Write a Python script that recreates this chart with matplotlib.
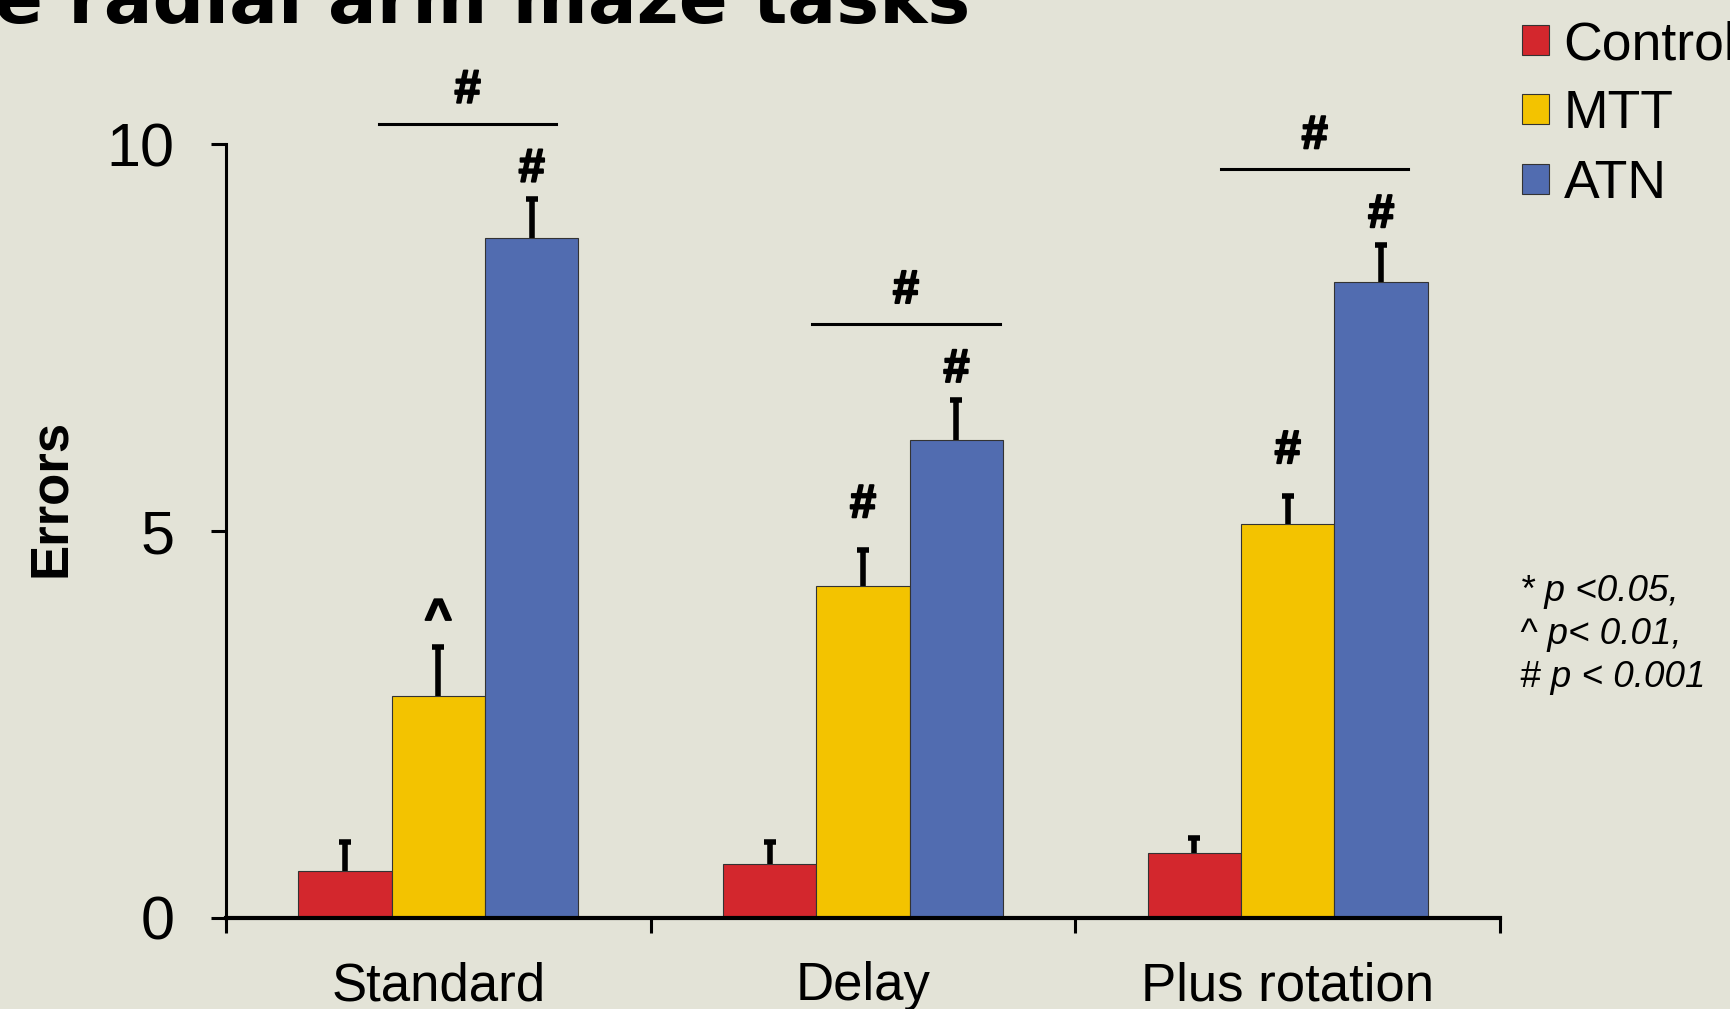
import numpy as np
import matplotlib.pyplot as plt
import matplotlib.patheffects as pe

# radial arm maze errors per task, mean and upward SEM
tasks = ["Standard", "Delay", "Plus rotation"]
groups = ["Control", "MTT", "ATN"]
control = [0.61, 0.70, 0.84]
control_err = [0.37, 0.28, 0.20]
mtt = [2.87, 4.29, 5.09]
mtt_err = [0.63, 0.47, 0.37]
atn = [8.79, 6.18, 8.22]
atn_err = [0.50, 0.52, 0.48]

# significance marks
mtt_sig = ["^", "#", "#"]
atn_sig = ["#", "#", "#"]
pair_sig = ["#", "#", "#"]

# MTT vs ATN bracket ends, relative to the task centre
bracket_ends = [(-0.139, 0.277), (-0.121, 0.323), (-0.157, 0.284)]

colors = ["#D3272D", "#F3C300", "#516CB0"]
bg = "#E3E3D7"

plt.rcParams["font.family"] = ["Liberation Sans", "DejaVu Sans"]

fig = plt.figure(figsize=(17.3, 10.09), dpi=100, facecolor=bg)
ax = fig.add_axes([0.1306, 0.0902, 0.7365, 0.7666])
ax.set_facecolor(bg)

X = np.arange(len(tasks))
w = 0.22
series = [(control, control_err), (mtt, mtt_err), (atn, atn_err)]
bars = []
for k, (vals, errs) in enumerate(series):
    xs = X + (k - 1) * w
    b = ax.bar(xs, vals, w, color=colors[k], edgecolor="#333333",
               linewidth=0.8, label=groups[k], zorder=2)
    bars.append(b)
    _, caps, _ = ax.errorbar(xs, vals, yerr=[np.zeros(len(vals)), errs],
                             fmt="none", ecolor="black", elinewidth=4.0,
                             capsize=4.5, capthick=4.0, zorder=1)
    # one-sided bars: drop the cap sitting on the bar top
    caps[0].set_visible(False)

heavy = [pe.withStroke(linewidth=1.4, foreground="black")]
sig_kw = dict(ha="center", va="baseline", fontsize=34, fontweight="bold",
              path_effects=heavy)
for i in range(len(tasks)):
    top_m = mtt[i] + mtt_err[i]
    top_a = atn[i] + atn_err[i]
    off = 0.20 if mtt_sig[i] == "^" else 0.42
    ax.text(X[i], top_m + off, mtt_sig[i], **sig_kw)
    ax.text(X[i] + w, top_a + 0.23, atn_sig[i], **sig_kw)
    yb = top_a + 0.98
    x0, x1 = bracket_ends[i]
    ax.plot([X[i] + x0, X[i] + x1], [yb, yb], color="black", lw=2.2,
            clip_on=False)
    ax.text(X[i] + (x0 + x1) / 2, yb + 0.27, pair_sig[i], **sig_kw)

ax.set_xlim(-0.5, len(tasks) - 0.5)
ax.set_ylim(0, 10)
ax.set_yticks([0, 5, 10])
ax.set_xticks(np.arange(len(tasks) + 1) - 0.5)
ax.set_xticklabels([])
ax.set_xticks(X, minor=True)
ax.set_xticklabels(tasks, minor=True, fontsize=38)
ax.tick_params(axis="x", which="minor", length=0, pad=31)
ax.tick_params(axis="x", which="major", direction="out", length=11,
               width=2.2)
ax.tick_params(axis="y", direction="out", length=11, width=2.2, pad=26,
               labelsize=44)

ax.spines["right"].set_color("none")
ax.spines["top"].set_color("none")
ax.spines["left"].set_linewidth(2.2)
ax.spines["bottom"].set_linewidth(3.0)

ax.set_ylabel("Errors", fontsize=38, fontweight="bold")
ax.yaxis.set_label_coords(-0.118, 0.543)

fig.legend(handles=bars, loc="upper left", bbox_to_anchor=(0.880, 0.980),
           frameon=False, fontsize=38.5, handlelength=0.49, handleheight=0.49,
           handletextpad=0.28, labelspacing=0.36, borderpad=0,
           borderaxespad=0)

fig.text(0.8786, 0.431, "* p <0.05,\n^ p< 0.01,\n# p < 0.001",
         ha="left", va="top", fontsize=26.5, style="italic", linespacing=1.3)

fig.text(0.561, 1 - 23 / 1009, "the radial arm maze tasks", ha="right",
         va="baseline", fontsize=52, fontweight="bold",
         family="DejaVu Sans")

fig.savefig("out.png", dpi=100, facecolor=bg)
